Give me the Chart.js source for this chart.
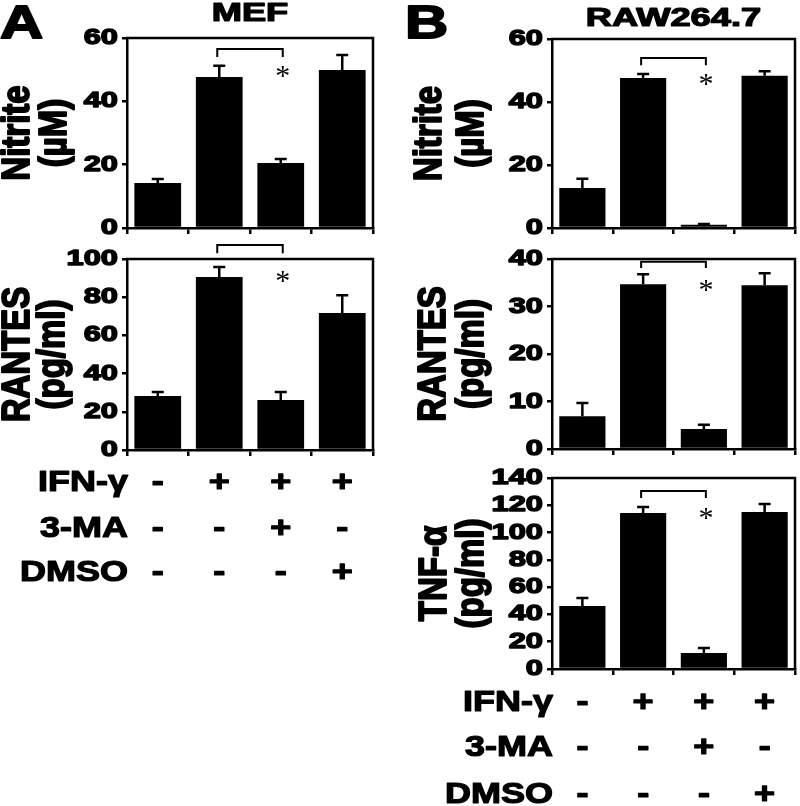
<!DOCTYPE html>
<html>
<head>
<meta charset="utf-8">
<script src="https://cdn.jsdelivr.net/npm/chart.js@4.4.1/dist/chart.umd.min.js"></script>
<style>
  html, body { margin: 0; padding: 0; background: #fff; }
  body { width: 800px; height: 806px; position: relative; overflow: hidden; }
  canvas { position: absolute; }
</style>
</head>
<body>
<canvas id="mefNitrite"></canvas>
<canvas id="mefRantes"></canvas>
<canvas id="rawNitrite"></canvas>
<canvas id="rawRantes"></canvas>
<canvas id="rawTnf"></canvas>
<script>
// groups (columns) and the treatment table under the bars
const groups = ['control', 'IFN-γ', 'IFN-γ + 3-MA', 'IFN-γ + DMSO'];
const treatments = ['IFN-γ', '3-MA', 'DMSO'];
const ifnRow  = ['-', '+', '+', '+'];
const maRow   = ['-', '-', '+', '-'];
const dmsoRow = ['-', '-', '-', '+'];

// A - MEF
const mefNitrite    = [14.2, 47.7, 20.5, 49.9];
const mefNitriteErr = [1.3, 3.5, 1.3, 4.7];
const mefRantes     = [28.3, 90.6, 26.2, 71.7];
const mefRantesErr  = [2.1, 5.2, 4.2, 9.3];

// B - RAW264.7
const rawNitrite    = [12.7, 47.6, 1.0, 48.3];
const rawNitriteErr = [2.9, 1.3, 0.3, 1.5];
const rawRantes     = [6.9, 34.7, 4.2, 34.5];
const rawRantesErr  = [2.8, 2.1, 0.9, 2.5];
const rawTnf        = [46.2, 114.3, 11.7, 115.0];
const rawTnfErr     = [5.8, 4.4, 3.7, 6.0];

// y axis ranges [max, step]
const nitriteAxis   = [60, 20];
const mefRantesAxis = [100, 20];
const rawRantesAxis = [40, 10];
const tnfAxis       = [140, 20];

const FONT = '"Liberation Sans", Arial, sans-serif';

// heavy text, drawn wider than tall like the original figure
function stretchText(ctx, txt, x, y, size, sx, align, rot, heavy) {
  ctx.save();
  ctx.translate(x, y);
  if (rot) { ctx.rotate(-Math.PI / 2); ctx.scale(1, sx); }
  else ctx.scale(sx, 1);
  ctx.font = 'bold ' + size + 'px ' + FONT;
  ctx.textAlign = align || 'center';
  ctx.textBaseline = 'middle';
  ctx.fillStyle = '#000';
  ctx.strokeStyle = '#000';
  ctx.lineJoin = 'round';
  ctx.fillText(txt, 0, 0);
  ctx.lineWidth = heavy || 1.2;
  ctx.strokeText(txt, 0, 0);
  ctx.restore();
}

const panelDeco = {
  id: 'panelDeco',
  afterDraw(chart, args, o) {
    const ctx = chart.ctx, a = chart.chartArea, ys = chart.scales.y;
    const bars = chart.getDatasetMeta(0).data;
    const vals = chart.data.datasets[0].data;
    ctx.save();
    ctx.strokeStyle = '#000';
    ctx.fillStyle = '#000';

    // closed box: top and right sides
    ctx.lineWidth = 2.5;
    ctx.beginPath();
    ctx.moveTo(a.left - 1, a.top);
    ctx.lineTo(a.right, a.top);
    ctx.lineTo(a.right, a.bottom);
    ctx.stroke();

    // tick labels
    ys.ticks.forEach(t => {
      stretchText(ctx, String(t.value), a.left - 9, ys.getPixelForValue(t.value), 22, 1.4, 'right', false, 1.4);
    });

    // axis title (two lines)
    const cy = (a.top + a.bottom) / 2;
    o.title.forEach((line, i) => stretchText(ctx, line, o.titleX[i], cy, 33, 1.2, 'center', true, 1.6));

    // error bars (upper only)
    ctx.lineWidth = 2.5;
    o.err.forEach((e, i) => {
      const bx = bars[i].x;
      const y0 = ys.getPixelForValue(vals[i]);
      const y1 = ys.getPixelForValue(vals[i] + e);
      ctx.beginPath();
      ctx.moveTo(bx, y0);
      ctx.lineTo(bx, y1);
      ctx.moveTo(bx - 6, y1);
      ctx.lineTo(bx + 6, y1);
      ctx.stroke();
    });

    // significance bracket between groups 2 and 3
    const x1 = bars[1].x - 2, x2 = bars[2].x + 2;
    const top = ys.getPixelForValue(o.bracket[0]);
    const leg = ys.getPixelForValue(o.bracket[1]);
    ctx.lineWidth = 2;
    ctx.beginPath();
    ctx.moveTo(x1, leg);
    ctx.lineTo(x1, top);
    ctx.lineTo(x2, top);
    ctx.lineTo(x2, leg);
    ctx.stroke();

    ctx.font = '30px "Liberation Serif", serif';
    ctx.textAlign = 'center';
    ctx.textBaseline = 'alphabetic';
    const m = ctx.measureText('*');
    const sy = ys.getPixelForValue(o.star) + (m.actualBoundingBoxAscent - m.actualBoundingBoxDescent) / 2;
    ctx.fillText('*', bars[2].x + 2, sy);

    // panel letter and heading
    if (o.heading) {
      stretchText(ctx, o.letter, o.letterX, 25, 46, 1.3, 'left', false, 1.8);
      stretchText(ctx, o.heading, (a.left + a.right) / 2, o.headingY, 25, 1.45, 'center', false, 1.2);
    }

    // treatment table
    if (o.table) {
      const rows = [ifnRow, maRow, dmsoRow];
      rows.forEach((row, r) => {
        const ry = a.bottom + o.rowY[r];
        stretchText(ctx, treatments[r], a.left + 1, ry, 30, 1.2, 'right', false, 1.2);
        row.forEach((s, j) => stretchText(ctx, s, bars[j].x, ry, 30, 1.2, 'center', false, 1.2));
      });
    }
    ctx.restore();
  }
};
Chart.register(panelDeco);

function makePanel(id, box, plot, values, axis, deco) {
  const cv = document.getElementById(id);
  cv.width = box.w;
  cv.height = box.h;
  cv.style.left = box.x + 'px';
  cv.style.top = box.y + 'px';
  const axisGrid = { drawOnChartArea: false, color: '#000', lineWidth: 2.5, tickLength: 6 };
  const axisBorder = { color: '#000', width: 2.5 };
  return new Chart(cv, {
    type: 'bar',
    data: {
      labels: groups,
      datasets: [{ data: values, backgroundColor: '#000', barPercentage: 0.76, categoryPercentage: 1 }]
    },
    options: {
      responsive: false,
      animation: false,
      layout: { padding: { top: plot.top - box.y, right: box.x + box.w - plot.right, left: 0, bottom: 0 } },
      plugins: { legend: { display: false }, tooltip: { enabled: false }, panelDeco: deco },
      scales: {
        x: {
          grid: Object.assign({ offset: true }, axisGrid),
          border: axisBorder,
          ticks: { display: false },
          afterFit(s) { s.height = box.y + box.h - plot.bottom; }
        },
        y: {
          min: 0, max: axis[0],
          grid: Object.assign({}, axisGrid, { tickLength: 5 }),
          border: axisBorder,
          ticks: { display: false, stepSize: axis[1] },
          afterFit(s) { s.width = plot.left - box.x; }
        }
      }
    }
  });
}

makePanel('mefNitrite', { x: 0, y: 0, w: 400, h: 236 }, { left: 127, right: 373, top: 38, bottom: 228 },
  mefNitrite, nitriteAxis,
  { err: mefNitriteErr, title: ['Nitrite', '(µM)'], titleX: [18, 55], bracket: [56.5, 54], star: 49.3,
    heading: 'MEF', headingY: 14, letter: 'A', letterX: 0 });

makePanel('mefRantes', { x: 0, y: 236, w: 400, h: 570 }, { left: 127, right: 373, top: 259, bottom: 450 },
  mefRantes, mefRantesAxis,
  { err: mefRantesErr, title: ['RANTES', '(pg/ml)'], titleX: [18, 53], bracket: [107.3, 103], star: 90.6,
    table: true, rowY: [33, 79, 123] });

makePanel('rawNitrite', { x: 400, y: 0, w: 400, h: 236 }, { left: 552, right: 795, top: 39, bottom: 228 },
  rawNitrite, nitriteAxis,
  { err: rawNitriteErr, title: ['Nitrite', '(µM)'], titleX: [30, 72], bracket: [54, 51.7], star: 47,
    heading: 'RAW264.7', headingY: 19, letter: 'B', letterX: 5 });

makePanel('rawRantes', { x: 400, y: 236, w: 400, h: 224 }, { left: 552, right: 795, top: 259, bottom: 449 },
  rawRantes, rawRantesAxis,
  { err: rawRantesErr, title: ['RANTES', '(pg/ml)'], titleX: [34, 72], bracket: [39.4, 38.1], star: 34.5 });

makePanel('rawTnf', { x: 400, y: 460, w: 400, h: 346 }, { left: 552, right: 795, top: 478, bottom: 669 },
  rawTnf, tnfAxis,
  { err: rawTnfErr, title: ['TNF-α', '(pg/ml)'], titleX: [35, 72], bracket: [130.5, 125.3], star: 114.3,
    table: true, rowY: [34, 79, 126] });
</script>
</body>
</html>
